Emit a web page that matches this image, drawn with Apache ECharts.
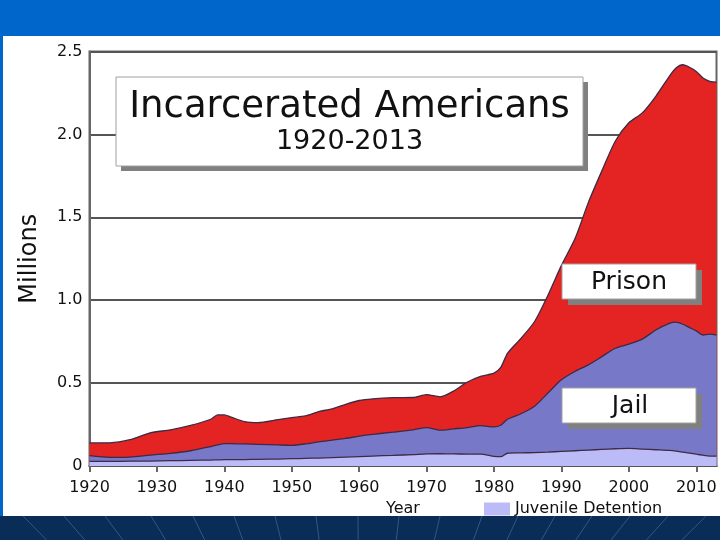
<!DOCTYPE html>
<html>
<head>
<meta charset="utf-8">
<script src="https://cdn.jsdelivr.net/npm/echarts@6/dist/echarts.min.js"></script>
<style>
html,body{margin:0;padding:0;background:#fff;}
#c{width:720px;height:540px;}
</style>
</head>
<body>
<div id="c"></div>
<script>
const years = [1920,1923,1926,1929,1932,1935,1938,1939,1940,1941,1943,1945,1948,1950,1952,1954,1956,1958,1960,1962,1965,1968,1970,1972,1974,1976,1978,1980,1981,1982,1984,1986,1988,1990,1992,1994,1996,1998,2000,2002,2004,2006,2007,2008,2009,2010,2011,2012,2013];
const juvenile = [0.028,0.028,0.029,0.030,0.032,0.034,0.036,0.037,0.038,0.038,0.039,0.040,0.042,0.044,0.046,0.048,0.051,0.054,0.057,0.060,0.064,0.069,0.073,0.074,0.073,0.072,0.072,0.058,0.056,0.077,0.079,0.081,0.084,0.088,0.092,0.096,0.100,0.104,0.106,0.102,0.098,0.094,0.090,0.084,0.078,0.071,0.065,0.060,0.059];
const jail = [0.034,0.024,0.025,0.036,0.044,0.058,0.081,0.090,0.097,0.097,0.094,0.091,0.085,0.081,0.087,0.098,0.105,0.112,0.123,0.131,0.140,0.149,0.159,0.142,0.151,0.160,0.171,0.178,0.190,0.205,0.236,0.279,0.356,0.432,0.478,0.514,0.560,0.606,0.629,0.663,0.722,0.766,0.778,0.771,0.757,0.744,0.725,0.735,0.731];
const prison = [0.077,0.088,0.105,0.134,0.142,0.153,0.165,0.181,0.173,0.160,0.135,0.131,0.153,0.167,0.169,0.182,0.189,0.206,0.215,0.214,0.208,0.195,0.199,0.201,0.228,0.273,0.297,0.324,0.349,0.398,0.455,0.510,0.590,0.690,0.800,0.980,1.120,1.250,1.335,1.365,1.410,1.490,1.532,1.565,1.570,1.565,1.550,1.525,1.525];
const xTicks = [1920,1930,1940,1950,1960,1970,1980,1990,2000,2010];
const yTicks = [0,0.5,1.0,1.5,2.0,2.5];

const FONT = 'DejaVu Sans';
const chart = echarts.init(document.getElementById('c'), null, {renderer:'canvas'});

// stacked tops (each layer drawn from zero, upper layers painted underneath)
const jailTop = years.map((y,i)=>[y, juvenile[i] + jail[i]]);
const totalTop = years.map((y,i)=>[y, juvenile[i] + jail[i] + prison[i]]);
const juvTop = years.map((y,i)=>[y, juvenile[i]]);
const outline = {color:'#3d2a44', width:1.3};

// bottom decorative rays
const rayTops = [23,64,105,151,193,234,275,316,358,399,440,482,518,555,592,630,668,706];
const rays = rayTops.map(x => ({
  type:'line', z:-1,
  shape:{x1:x, y1:516, x2:360+(x-360)*0.93, y2:540},
  style:{stroke:'rgba(90,140,200,0.45)', lineWidth:1}
}));

function box(x,y,w,h,off){
  return [
    {type:'rect', z:100, shape:{x:x+off,y:y+off,width:w,height:h}, style:{fill:'#808080'}},
    {type:'rect', z:101, shape:{x:x,y:y,width:w,height:h}, style:{fill:'#ffffff', stroke:'#a0a0a0', lineWidth:1}}
  ];
}

const option = {
  backgroundColor:'#ffffff',
  animation:false,
  textStyle:{fontFamily:FONT},
  grid:{left:89.5, right:3.5, top:51.5, bottom:74, show:true, borderColor:'#666', borderWidth:2, backgroundColor:'transparent'},
  legend:{
    data:['Juvenile Detention'], left:484, top:501, padding:0,
    itemWidth:26, itemHeight:13, itemGap:5,
    icon:'rect',
    textStyle:{fontFamily:FONT, fontSize:16, color:'#111'}
  },
  xAxis:{
    type:'value', min:1920, max:2013, interval:10,
    name:'Year', nameLocation:'middle', nameGap:35,
    nameTextStyle:{fontFamily:FONT, fontSize:16, color:'#111'},
    axisLine:{show:true, onZero:false, lineStyle:{color:'#555', width:2}},
    axisTick:{show:true, inside:false, length:6, lineStyle:{color:'#666', width:2}, customValues:xTicks},
    axisLabel:{fontFamily:FONT, fontSize:16, color:'#111', margin:14, customValues:xTicks,
      formatter:v => String(v)},
    splitLine:{show:false}
  },
  yAxis:{
    type:'value', min:0, max:2.5, interval:0.5,
    name:'Millions', nameLocation:'middle', nameGap:48,
    nameTextStyle:{fontFamily:FONT, fontSize:24, color:'#111'},
    axisLine:{show:true, lineStyle:{color:'#666', width:2}},
    axisTick:{show:false},
    axisLabel:{fontFamily:FONT, fontSize:16, color:'#111', margin:7,
      customValues:yTicks,
      formatter:v => v === 0 ? '0' : v.toFixed(1)},
    splitLine:{show:true, lineStyle:{color:'#555', width:2}}
  },
  series:[
    {name:'Prison', type:'line', data:totalTop, symbol:'none', smooth:0.25,
      lineStyle:outline, areaStyle:{color:'#e32423', opacity:1}, itemStyle:{color:'#e32423'}, z:2},
    {name:'Jail', type:'line', data:jailTop, symbol:'none', smooth:0.25,
      lineStyle:outline, areaStyle:{color:'#7878c9', opacity:1}, itemStyle:{color:'#7878c9'}, z:3},
    {name:'Juvenile Detention', type:'line', data:juvTop, symbol:'none', smooth:0.25,
      lineStyle:outline, areaStyle:{color:'#bbbbf7', opacity:1}, itemStyle:{color:'#bbbbf7'}, z:4}
  ],
  graphic:[
    {type:'rect', z:-1, shape:{x:0,y:0,width:720,height:36}, style:{fill:'#0066cc'}},
    {type:'rect', z:-1, shape:{x:0,y:36,width:3,height:480}, style:{fill:'#0066cc'}},
    {type:'rect', z:-2, shape:{x:0,y:516,width:720,height:24}, style:{fill:'#0a2d57'}},
    ...rays,
    ...box(116,77,467,89,5),
    {type:'text', z:102, x:349.5, y:107, style:{text:'Incarcerated Americans', font:'37px "DejaVu Sans"', fill:'#111', align:'center', verticalAlign:'middle'}},
    {type:'text', z:102, x:349.5, y:142, style:{text:'1920-2013', font:'27px "DejaVu Sans"', fill:'#111', align:'center', verticalAlign:'middle'}},
    ...box(562,264,134,35,6),
    {type:'text', z:102, x:629, y:282, style:{text:'Prison', font:'25px "DejaVu Sans"', fill:'#111', align:'center', verticalAlign:'middle'}},
    ...box(562,388,134,35,6),
    {type:'text', z:102, x:630, y:406, style:{text:'Jail', font:'25px "DejaVu Sans"', fill:'#111', align:'center', verticalAlign:'middle'}}
  ]
};
chart.setOption(option);
</script>
</body>
</html>
